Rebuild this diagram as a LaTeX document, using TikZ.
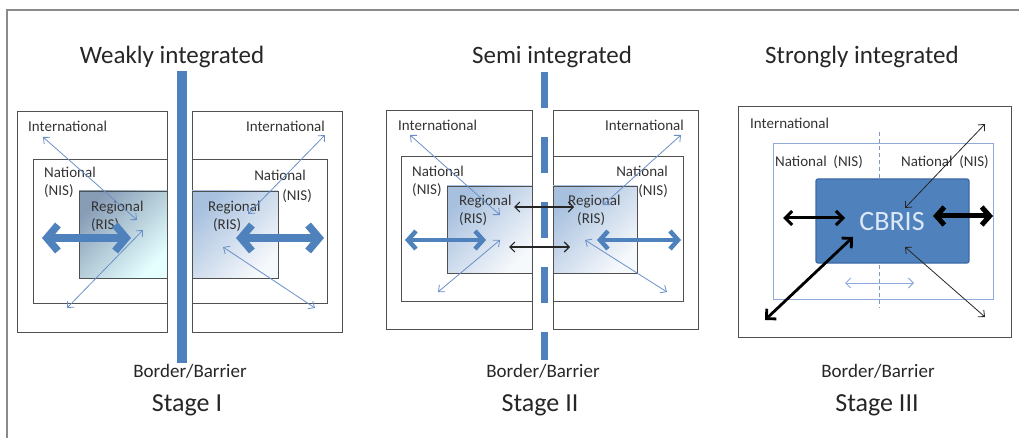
\documentclass[tikz,border=0pt]{standalone}
\usepackage{fontspec}
\setmainfont{Carlito}
\usetikzlibrary{arrows.meta}
\definecolor{obar}{HTML}{4F81BD}
\definecolor{boxgray}{HTML}{505050}
\definecolor{txtgray}{HTML}{333333}
\definecolor{thinblue}{HTML}{6A8FC8}
\definecolor{natblue}{HTML}{8FAAD8}
\definecolor{cbfill}{HTML}{4F81BD}
\definecolor{cbdraw}{HTML}{3C6AA5}
\definecolor{cbtext}{HTML}{DCE8F6}
\definecolor{frame}{HTML}{8A8A8A}
\begin{document}
\begin{tikzpicture}[x=1pt,y=-1pt,
  box/.style={draw=boxgray, line width=0.9pt, anchor=north west, inner sep=0pt, outer sep=0pt},
  lbl/.style={font=\fontsize{15}{18}\selectfont, text=txtgray, inner sep=0pt},
  ttl/.style={font=\fontsize{25}{28}\selectfont, text=black!85, inner sep=0pt},
  stg/.style={font=\fontsize{26}{29}\selectfont, text=black!85, inner sep=0pt},
  bb/.style={font=\fontsize{19}{22}\selectfont, text=black!85, inner sep=0pt},
  thinarr/.style={draw=thinblue, line width=0.8pt, {Straight Barb[length=5pt,width=9pt]}-{Straight Barb[length=5pt,width=9pt]}},
  thickI/.style={draw=obar, line width=7.5pt, {Straight Barb[length=11pt,width=26pt]}-{Straight Barb[length=11pt,width=26pt]}},
  thickII/.style={draw=obar, line width=4.5pt, {Straight Barb[length=8pt,width=18pt]}-{Straight Barb[length=8pt,width=18pt]}},
  blkarr/.style={draw=black!85, line width=1.1pt, {Straight Barb[length=5pt,width=10pt]}-{Straight Barb[length=5pt,width=10pt]}},
  regI/.style={box, top color=black!30!obar!60, bottom color=cyan!10, shading angle=45},
  regB/.style={box, top color=obar!50, bottom color=obar!5, shading angle=45}
]
\useasboundingbox (0,0) rectangle (1019,438);
% frame
\coordinate (fl) at (7,438);
\coordinate (fc) at (7,10);
\coordinate (fr) at (1019,10);
\draw[frame, line width=1.6pt] (fl) -- (fc) -- (fr);

% ===== Stage I =====
\node[box, minimum width=150pt, minimum height=221pt] (IoL) at (17,111) {};
\node[box, minimum width=134pt, minimum height=144pt] (InL) at (33,159) {};
\node[regI, minimum width=88pt, minimum height=87pt] (IrL) at (79,191) {};
\node[box, minimum width=150pt, minimum height=221pt] (IoR) at (192,111) {};
\node[box, minimum width=135pt, minimum height=144pt] (InR) at (192,159) {};
\node[regB, minimum width=86pt, minimum height=87pt] (IrR) at (192,191) {};

\node[lbl, anchor=west] (IintL) at (28,126) {International};
\node[lbl, anchor=east] (IintR) at (325,126) {International};
\node[lbl, anchor=west, align=left] (InatL) at (44,182) {National\\(NIS)};
\node[lbl, anchor=east] (InatR1) at (306,175) {National};
\node[lbl, anchor=east] (InatR2) at (312,196) {(NIS)};
\node[lbl, anchor=west, align=left] (IregL) at (91,216) {Regional\\(RIS)};
\node[lbl, anchor=west, align=left] (IregR) at (208,216) {Regional\\\hspace*{5pt}(RIS)};

\coordinate (Ia1) at (43,137); \coordinate (Ia2) at (137,220);
\coordinate (Ib1) at (67,308); \coordinate (Ib2) at (143,230);
\coordinate (Ic1) at (248,214); \coordinate (Ic2) at (325,135);
\coordinate (Id1) at (223,247); \coordinate (Id2) at (315,308);
\draw[thinarr] (Ia1) -- (Ia2);
\draw[thinarr] (Ib1) -- (Ib2);
\draw[thinarr] (Ic1) -- (Ic2);
\draw[thinarr] (Id1) -- (Id2);
\coordinate (It1) at (42,238); \coordinate (It2) at (131,238);
\coordinate (It3) at (236,238); \coordinate (It4) at (324,238);
\draw[thickI] (It1) -- (It2);
\draw[thickI] (It3) -- (It4);

\coordinate (Ibar1) at (181.5,71); \coordinate (Ibar2) at (181.5,363);
\draw[obar, line width=10pt] (Ibar1) -- (Ibar2);

\node[ttl] (Ittl) at (172,57) {Weakly integrated};
\node[bb] (Ibb) at (190,371) {Border/Barrier};
\node[stg] (Istage) at (187,405) {Stage I};

% ===== Stage II =====
\node[box, minimum width=146pt, minimum height=219pt] (IIoL) at (386,110) {};
\node[box, minimum width=131pt, minimum height=145pt] (IInL) at (401,156) {};
\node[regB, minimum width=85pt, minimum height=87pt] (IIrL) at (447,186) {};
\node[box, minimum width=145pt, minimum height=219pt] (IIoR) at (553,110) {};
\node[box, minimum width=130pt, minimum height=145pt] (IInR) at (553,156) {};
\node[regB, minimum width=84pt, minimum height=87pt] (IIrR) at (553,186) {};

\node[lbl, anchor=west] (IIintL) at (398,125) {International};
\node[lbl, anchor=east] (IIintR) at (684,125) {International};
\node[lbl, anchor=west, align=left] (IInatL) at (412,181) {National\\(NIS)};
\node[lbl, anchor=east] (IInatR1) at (668,171) {National};
\node[lbl, anchor=east] (IInatR2) at (668,191) {(NIS)};
\node[lbl, anchor=west, align=left] (IIregL) at (459,210) {Regional\\(RIS)};
\node[lbl, anchor=west, align=left] (IIregR) at (568,210) {Regional\\\hspace*{9pt}(RIS)};

\coordinate (IIa1) at (410,135); \coordinate (IIa2) at (500,215);
\coordinate (IIb1) at (438,292); \coordinate (IIb2) at (500,240);
\coordinate (IIc1) at (603,205); \coordinate (IIc2) at (681,135);
\coordinate (IId1) at (585,240); \coordinate (IId2) at (667,292);
\draw[thinarr] (IIa1) -- (IIa2);
\draw[thinarr] (IIb1) -- (IIb2);
\draw[thinarr] (IIc1) -- (IIc2);
\draw[thinarr] (IId1) -- (IId2);
\coordinate (IIt1) at (405,240); \coordinate (IIt2) at (486,240);
\coordinate (IIt3) at (597,240); \coordinate (IIt4) at (681,240);
\draw[thickII] (IIt1) -- (IIt2);
\draw[thickII] (IIt3) -- (IIt4);

\coordinate (IIbar1) at (544.5,72); \coordinate (IIbar2) at (544.5,360);
\draw[obar, line width=7pt, dash pattern=on 36pt off 29pt] (IIbar1) -- (IIbar2);

\coordinate (IIk1) at (514,207); \coordinate (IIk2) at (574,207);
\coordinate (IIk3) at (509,247); \coordinate (IIk4) at (570,247);
\draw[blkarr] (IIk1) -- (IIk2);
\draw[blkarr] (IIk3) -- (IIk4);

\node[ttl] (IIttl) at (552,57) {Semi integrated};
\node[bb] (IIbb) at (543,371) {Border/Barrier};
\node[stg] (IIstage) at (540,405) {Stage II};

% ===== Stage III =====
\node[box, minimum width=273pt, minimum height=231pt] (IIIo) at (738,106) {};
\node[box, draw=natblue, line width=0.9pt, minimum width=220pt, minimum height=156pt] (IIIn) at (773,143) {};
\coordinate (IIIv1) at (879,132); \coordinate (IIIv2) at (879,308);
\draw[natblue!90!black, line width=0.9pt, dash pattern=on 4pt off 3pt] (IIIv1) -- (IIIv2);
\node[box, fill=cbfill, draw=cbdraw, line width=1.2pt, rounded corners=2pt, minimum width=153pt, minimum height=84pt] (IIIc) at (816,179) {};
\node[font=\fontsize{28}{31}\selectfont, text=cbtext, inner sep=0pt] (IIIcb) at (892,222) {CBRIS};

\node[lbl, anchor=west] (IIIint) at (750,123) {International};
\node[lbl, anchor=west] (IIInatL) at (775,162) {National\ \ (NIS)};
\node[lbl, anchor=east] (IIInatR) at (989,162) {National\ \ (NIS)};

\coordinate (IIIl1) at (783,218); \coordinate (IIIl2) at (845,218);
\draw[draw=black, line width=3pt, {Straight Barb[length=7pt,width=14pt]}-{Straight Barb[length=7pt,width=14pt]}] (IIIl1) -- (IIIl2);
\coordinate (IIIr1) at (933,216); \coordinate (IIIr2) at (993,216);
\draw[draw=black, line width=5pt, {Straight Barb[length=8pt,width=18pt]}-{Straight Barb[length=8pt,width=18pt]}] (IIIr1) -- (IIIr2);
\coordinate (IIId1) at (765,320); \coordinate (IIId2) at (853,237);
\draw[draw=black, line width=2.8pt, {Straight Barb[length=7pt,width=14pt]}-{Straight Barb[length=7pt,width=14pt]}] (IIId1) -- (IIId2);
\coordinate (IIIs1) at (905,208); \coordinate (IIIs2) at (985,124);
\draw[draw=black!85, line width=0.8pt, {Straight Barb[length=5pt,width=9pt]}-{Straight Barb[length=5pt,width=9pt]}] (IIIs1) -- (IIIs2);
\coordinate (IIIs3) at (905,247); \coordinate (IIIs4) at (985,317);
\draw[draw=black!85, line width=0.8pt, {Straight Barb[length=5pt,width=9pt]}-{Straight Barb[length=5pt,width=9pt]}] (IIIs3) -- (IIIs4);
\coordinate (IIIh1) at (845,283); \coordinate (IIIh2) at (914,283);
\draw[draw=natblue, line width=1pt, {Straight Barb[length=5pt,width=10pt]}-{Straight Barb[length=5pt,width=10pt]}] (IIIh1) -- (IIIh2);

\node[ttl] (IIIttl) at (862,57) {Strongly integrated};
\node[bb] (IIIbb) at (878,371) {Border/Barrier};
\node[stg] (IIIstage) at (877,405) {Stage III};
\end{tikzpicture}
\end{document}
